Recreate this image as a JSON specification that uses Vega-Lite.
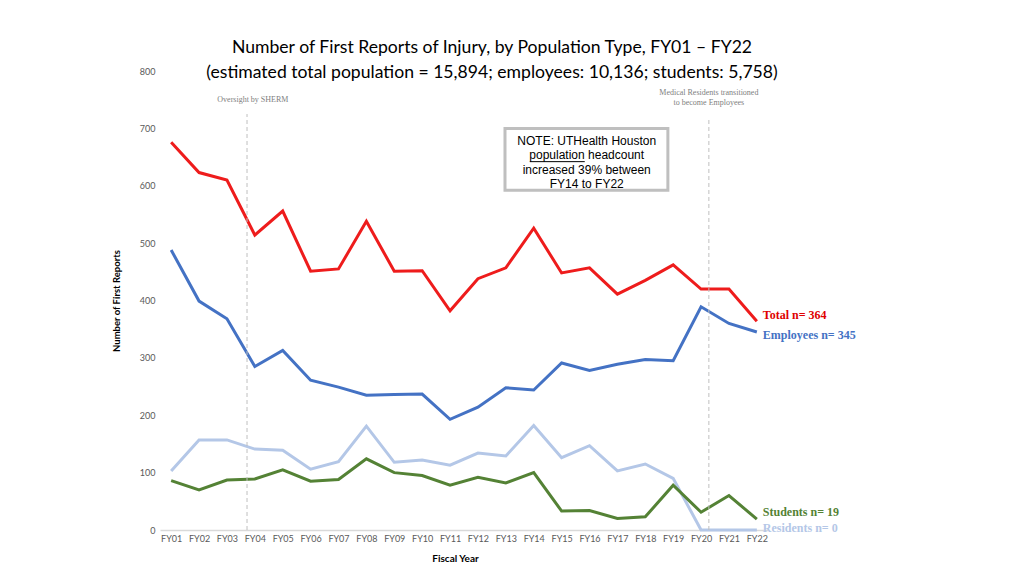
{
  "$schema": "https://vega.github.io/schema/vega-lite/v6.json",
  "autosize": "none",
  "padding": {"left": 160, "top": 71, "right": 256, "bottom": 45},
  "width": 608,
  "height": 459,
  "background": "white",
  "config": {"view": {"stroke": null}},
  "title": {
    "text": ["Number of First Reports of Injury, by Population Type, FY01 – FY22", "(estimated total population = 15,894; employees: 10,136; students: 5,758)"],
    "font": "Lato",
    "fontSize": 17.6,
    "fontWeight": "normal",
    "color": "#000000",
    "lineHeight": 25,
    "anchor": "middle",
    "dx": 28,
    "offset": -15
  },
  "datasets": {
    "reports": [
      {"fy": 1, "series": "Total", "count": 676}, {"fy": 2, "series": "Total", "count": 623}, {"fy": 3, "series": "Total", "count": 610},
      {"fy": 4, "series": "Total", "count": 514}, {"fy": 5, "series": "Total", "count": 556}, {"fy": 6, "series": "Total", "count": 451},
      {"fy": 7, "series": "Total", "count": 455}, {"fy": 8, "series": "Total", "count": 538}, {"fy": 9, "series": "Total", "count": 451},
      {"fy": 10, "series": "Total", "count": 452}, {"fy": 11, "series": "Total", "count": 382}, {"fy": 12, "series": "Total", "count": 438},
      {"fy": 13, "series": "Total", "count": 457}, {"fy": 14, "series": "Total", "count": 526}, {"fy": 15, "series": "Total", "count": 448},
      {"fy": 16, "series": "Total", "count": 457}, {"fy": 17, "series": "Total", "count": 411}, {"fy": 18, "series": "Total", "count": 435},
      {"fy": 19, "series": "Total", "count": 462}, {"fy": 20, "series": "Total", "count": 420}, {"fy": 21, "series": "Total", "count": 420},
      {"fy": 22, "series": "Total", "count": 364},
      {"fy": 1, "series": "Employees", "count": 488}, {"fy": 2, "series": "Employees", "count": 399}, {"fy": 3, "series": "Employees", "count": 368},
      {"fy": 4, "series": "Employees", "count": 285}, {"fy": 5, "series": "Employees", "count": 313}, {"fy": 6, "series": "Employees", "count": 261},
      {"fy": 7, "series": "Employees", "count": 249}, {"fy": 8, "series": "Employees", "count": 235}, {"fy": 9, "series": "Employees", "count": 236},
      {"fy": 10, "series": "Employees", "count": 237}, {"fy": 11, "series": "Employees", "count": 193}, {"fy": 12, "series": "Employees", "count": 214},
      {"fy": 13, "series": "Employees", "count": 248}, {"fy": 14, "series": "Employees", "count": 244}, {"fy": 15, "series": "Employees", "count": 291},
      {"fy": 16, "series": "Employees", "count": 278}, {"fy": 17, "series": "Employees", "count": 289}, {"fy": 18, "series": "Employees", "count": 297},
      {"fy": 19, "series": "Employees", "count": 295}, {"fy": 20, "series": "Employees", "count": 389}, {"fy": 21, "series": "Employees", "count": 360},
      {"fy": 22, "series": "Employees", "count": 345},
      {"fy": 1, "series": "Residents", "count": 103}, {"fy": 2, "series": "Residents", "count": 157}, {"fy": 3, "series": "Residents", "count": 157},
      {"fy": 4, "series": "Residents", "count": 141}, {"fy": 5, "series": "Residents", "count": 139}, {"fy": 6, "series": "Residents", "count": 106},
      {"fy": 7, "series": "Residents", "count": 119}, {"fy": 8, "series": "Residents", "count": 181}, {"fy": 9, "series": "Residents", "count": 118},
      {"fy": 10, "series": "Residents", "count": 122}, {"fy": 11, "series": "Residents", "count": 113}, {"fy": 12, "series": "Residents", "count": 134},
      {"fy": 13, "series": "Residents", "count": 129}, {"fy": 14, "series": "Residents", "count": 182}, {"fy": 15, "series": "Residents", "count": 126},
      {"fy": 16, "series": "Residents", "count": 147}, {"fy": 17, "series": "Residents", "count": 103}, {"fy": 18, "series": "Residents", "count": 115},
      {"fy": 19, "series": "Residents", "count": 90}, {"fy": 20, "series": "Residents", "count": 0}, {"fy": 21, "series": "Residents", "count": 0},
      {"fy": 22, "series": "Residents", "count": 0},
      {"fy": 1, "series": "Students", "count": 86}, {"fy": 2, "series": "Students", "count": 70}, {"fy": 3, "series": "Students", "count": 87},
      {"fy": 4, "series": "Students", "count": 89}, {"fy": 5, "series": "Students", "count": 105}, {"fy": 6, "series": "Students", "count": 85},
      {"fy": 7, "series": "Students", "count": 88}, {"fy": 8, "series": "Students", "count": 124}, {"fy": 9, "series": "Students", "count": 100},
      {"fy": 10, "series": "Students", "count": 95}, {"fy": 11, "series": "Students", "count": 78}, {"fy": 12, "series": "Students", "count": 92},
      {"fy": 13, "series": "Students", "count": 82}, {"fy": 14, "series": "Students", "count": 100}, {"fy": 15, "series": "Students", "count": 33},
      {"fy": 16, "series": "Students", "count": 34}, {"fy": 17, "series": "Students", "count": 20}, {"fy": 18, "series": "Students", "count": 23},
      {"fy": 19, "series": "Students", "count": 78}, {"fy": 20, "series": "Students", "count": 31}, {"fy": 21, "series": "Students", "count": 60},
      {"fy": 22, "series": "Students", "count": 19}
    ],
    "events": [
      {"fy": 3.72, "bottom": 0, "top": 725, "note": ["Oversight by SHERM"], "noteFy": 3.93, "noteCount": 749},
      {"fy": 20.28, "bottom": 0, "top": 718, "note": ["Medical Residents transitioned", "to become Employees"], "noteFy": 20.28, "noteCount": 762}
    ],
    "notebox": [
      {"x1": 12.97, "x2": 18.81, "y1": 592, "y2": 700, "cx": 15.9, "cy": 678,
       "text": ["NOTE: UTHealth Houston", "population headcount", "increased 39% between", "FY14 to FY22"],
       "ux1": 13.86, "ux2": 15.83, "uy": 642}
    ]
  },
  "layer": [
    {
      "data": {"name": "reports"},
      "mark": {"type": "line", "strokeWidth": 3},
      "encoding": {
        "x": {
          "field": "fy",
          "type": "quantitative",
          "scale": {"domain": [0.6, 22.4], "nice": false, "zero": false},
          "axis": {
            "values": [1, 2, 3, 4, 5, 6, 7, 8, 9, 10, 11, 12, 13, 14, 15, 16, 17, 18, 19, 20, 21, 22],
            "tickCount": 30,
            "labelExpr": "'FY' + (datum.value < 10 ? '0' : '') + datum.value",
            "labelOverlap": false,
            "title": "Fiscal Year",
            "titleFont": "Lato",
            "titleFontSize": 10,
            "titleFontWeight": "bold",
            "titleColor": "#000000",
            "titleX": 295,
            "titlePadding": 10,
            "labelFont": "Lato",
            "labelFontSize": 9,
            "labelColor": "#595959",
            "labelPadding": 4,
            "ticks": false,
            "grid": false,
            "domainColor": "#D9D9D9",
            "domainWidth": 1.5
          }
        },
        "y": {
          "field": "count",
          "type": "quantitative",
          "scale": {"domain": [0, 800], "nice": false},
          "axis": {
            "values": [0, 100, 200, 300, 400, 500, 600, 700, 800],
            "tickCount": 9,
            "title": "Number of First Reports",
            "titleFont": "Lato",
            "titleFontSize": 9.5,
            "titleFontWeight": "bold",
            "titleColor": "#000000",
            "titlePadding": 18,
            "labelFont": "Lato",
            "labelFontSize": 9,
            "labelColor": "#595959",
            "labelPadding": 5,
            "ticks": false,
            "grid": false,
            "domain": false
          }
        },
        "color": {
          "field": "series",
          "type": "nominal",
          "scale": {"domain": ["Residents", "Students", "Employees", "Total"], "range": ["#B4C7E7", "#548235", "#4472C4", "#EE1C1C"]},
          "legend": null
        }
      }
    },
    {
      "data": {"name": "events"},
      "mark": {"type": "rule", "color": "#BFBFBF", "strokeWidth": 1, "strokeDash": [4, 3]},
      "encoding": {
        "x": {"field": "fy", "type": "quantitative"},
        "y": {"field": "bottom", "type": "quantitative"},
        "y2": {"field": "top"}
      }
    },
    {
      "data": {"name": "events"},
      "mark": {"type": "text", "font": "Liberation Serif", "fontSize": 8, "color": "#808080", "align": "center", "baseline": "middle", "lineHeight": 10},
      "encoding": {
        "x": {"field": "noteFy", "type": "quantitative"},
        "y": {"field": "noteCount", "type": "quantitative"},
        "text": {"field": "note"}
      }
    },
    {
      "data": {"name": "notebox"},
      "mark": {"type": "rect", "fill": "white", "stroke": "#BFBFBF", "strokeWidth": 3},
      "encoding": {
        "x": {"field": "x1", "type": "quantitative"},
        "x2": {"field": "x2"},
        "y": {"field": "y1", "type": "quantitative"},
        "y2": {"field": "y2"}
      }
    },
    {
      "data": {"name": "notebox"},
      "mark": {"type": "text", "font": "Liberation Sans", "fontSize": 12, "color": "#000000", "align": "center", "baseline": "middle", "lineHeight": 14.3},
      "encoding": {
        "x": {"field": "cx", "type": "quantitative"},
        "y": {"field": "cy", "type": "quantitative"},
        "text": {"field": "text"}
      }
    },
    {
      "data": {"name": "notebox"},
      "mark": {"type": "rule", "color": "#000000", "strokeWidth": 1},
      "encoding": {
        "x": {"field": "ux1", "type": "quantitative"},
        "x2": {"field": "ux2"},
        "y": {"field": "uy", "type": "quantitative"}
      }
    },
    {
      "data": {"name": "reports"},
      "transform": [{"filter": "datum.fy == 22 && datum.series == 'Total'"}, {"calculate": "datum.series + ' n= ' + datum.count", "as": "label"}],
      "mark": {"type": "text", "font": "Liberation Serif", "fontWeight": "bold", "fontSize": 12, "align": "left", "baseline": "middle", "dx": 6, "dy": -6, "color": "#E00000"},
      "encoding": {"x": {"field": "fy", "type": "quantitative"}, "y": {"field": "count", "type": "quantitative"}, "text": {"field": "label"}}
    },
    {
      "data": {"name": "reports"},
      "transform": [{"filter": "datum.fy == 22 && datum.series == 'Employees'"}, {"calculate": "datum.series + ' n= ' + datum.count", "as": "label"}],
      "mark": {"type": "text", "font": "Liberation Serif", "fontWeight": "bold", "fontSize": 12, "align": "left", "baseline": "middle", "dx": 6, "dy": 3, "color": "#4472C4"},
      "encoding": {"x": {"field": "fy", "type": "quantitative"}, "y": {"field": "count", "type": "quantitative"}, "text": {"field": "label"}}
    },
    {
      "data": {"name": "reports"},
      "transform": [{"filter": "datum.fy == 22 && datum.series == 'Students'"}, {"calculate": "datum.series + ' n= ' + datum.count", "as": "label"}],
      "mark": {"type": "text", "font": "Liberation Serif", "fontWeight": "bold", "fontSize": 12, "align": "left", "baseline": "middle", "dx": 6, "dy": -7, "color": "#548235"},
      "encoding": {"x": {"field": "fy", "type": "quantitative"}, "y": {"field": "count", "type": "quantitative"}, "text": {"field": "label"}}
    },
    {
      "data": {"name": "reports"},
      "transform": [{"filter": "datum.fy == 22 && datum.series == 'Residents'"}, {"calculate": "datum.series + ' n= ' + datum.count", "as": "label"}],
      "mark": {"type": "text", "font": "Liberation Serif", "fontWeight": "bold", "fontSize": 12, "align": "left", "baseline": "middle", "dx": 6, "dy": -2, "color": "#B4C7E7"},
      "encoding": {"x": {"field": "fy", "type": "quantitative"}, "y": {"field": "count", "type": "quantitative"}, "text": {"field": "label"}}
    }
  ]
}
